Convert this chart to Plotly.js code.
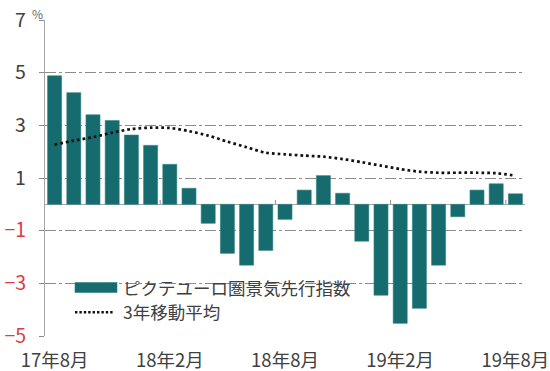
<!DOCTYPE html>
<html>
<head>
<meta charset="utf-8">
<script src="https://cdn.plot.ly/plotly-3.0.1.min.js"></script>
<style>
  html, body { margin: 0; padding: 0; background: #ffffff; }
  #chart { width: 550px; height: 371px; }
</style>
</head>
<body>
<div id="chart"></div>
<script>
// ---- data ----
const months = [
  "17年8月", "17年9月", "17年10月", "17年11月", "17年12月",
  "18年1月", "18年2月", "18年3月", "18年4月", "18年5月", "18年6月",
  "18年7月", "18年8月", "18年9月", "18年10月", "18年11月", "18年12月",
  "19年1月", "19年2月", "19年3月", "19年4月", "19年5月", "19年6月",
  "19年7月", "19年8月"
];
const indexValues = [
  4.88, 4.24, 3.40, 3.18, 2.63, 2.24, 1.52, 0.61, -0.72, -1.86, -2.31, -1.75,
  -0.57, 0.54, 1.09, 0.42, -1.40, -3.45, -4.52, -3.95, -2.31, -0.47, 0.54, 0.78, 0.40
];
const movingAvg = [
  2.27, 2.42, 2.55, 2.72, 2.86, 2.91, 2.90, 2.78, 2.61, 2.38, 2.17, 1.96,
  1.90, 1.85, 1.81, 1.72, 1.60, 1.47, 1.34, 1.24, 1.20, 1.20, 1.20, 1.18, 1.09
];
const xTickLabels = ["17年8月", "18年2月", "18年8月", "19年2月", "19年8月"];
const yTickVals = [7, 5, 3, 1, -1, -3, -5];
const seriesNames = ["ピクテユーロ圏景気先行指数", "3年移動平均"];

// ---- style ----
const W = 550, H = 371;
const M = { l: 45, r: 25, t: 20, b: 35 };
const teal = "#166b6e";
const gray = "#8c8c8c";
const textGray = "#404040";
const red = "#dc3c46";
const font = "'Noto Sans CJK JP', 'Noto Sans', sans-serif";

const pw = W - M.l - M.r, ph = H - M.t - M.b;
const px = v => (v - M.l) / pw;
const py = v => (H - M.b - v) / ph;

const posTickText = yTickVals.map(v => v >= 0 ? String(v) : "");
const negTickVals = yTickVals.filter(v => v < 0);
const negTickText = negTickVals.map(v => "−" + Math.abs(v));
const yRange = [-5, 7];

const traces = [
  {
    type: "bar",
    x: months,
    y: indexValues,
    name: seriesNames[0],
    marker: { color: teal, line: { color: "#2f7f82", width: 0.6 } },
    showlegend: false
  },
  {
    type: "scatter",
    mode: "lines",
    x: months,
    y: movingAvg,
    yaxis: "y2",
    name: seriesNames[1],
    line: { color: "#111111", width: 2.7, dash: "2.7px,3px", shape: "spline", smoothing: 0.8 },
    showlegend: false
  }
];

// boundary ticks on zero line every 6 months
const shapes = [];
for (let i = 5.5; i < months.length - 1; i += 6) {
  shapes.push({ type: "line", xref: "x", yref: "y", x0: i, x1: i, y0: 0, y1: 0.17,
    line: { color: gray, width: 1 }, layer: "above" });
}
// custom legend
shapes.push({ type: "rect", xref: "paper", yref: "paper",
  x0: px(73), x1: px(356), y0: py(322), y1: py(277),
  fillcolor: "#ffffff", line: { width: 0 }, layer: "below" });
shapes.push({ type: "rect", xref: "paper", yref: "paper",
  x0: px(75), x1: px(117), y0: py(292.5), y1: py(282.5),
  fillcolor: teal, line: { color: "#2f7f82", width: 0.6 }, layer: "above" });
shapes.push({ type: "line", xref: "paper", yref: "paper",
  x0: px(75), x1: px(114), y0: py(312.3), y1: py(312.3),
  line: { color: "#111111", width: 2.4, dash: "2.4px,2px" }, layer: "above" });

const annotations = [
  { xref: "paper", yref: "paper", x: px(121), y: py(287.5), xanchor: "left", yanchor: "middle",
    text: seriesNames[0], showarrow: false, font: { family: font, size: 17.5, color: textGray } },
  { xref: "paper", yref: "paper", x: px(121), y: py(311.5), xanchor: "left", yanchor: "middle",
    text: seriesNames[1], showarrow: false, font: { family: font, size: 17.5, color: textGray } },
  { xref: "paper", yref: "paper", x: px(30), y: py(13), xanchor: "left", yanchor: "middle",
    text: "%", showarrow: false, font: { family: font, size: 12, color: "#666666" } }
];

const layout = {
  width: W, height: H,
  margin: M,
  paper_bgcolor: "#ffffff",
  plot_bgcolor: "#ffffff",
  font: { family: font, color: textGray },
  showlegend: false,
  bargap: 0.27,
  xaxis: {
    type: "category",
    range: [-0.5, months.length - 0.5],
    tickmode: "array",
    tickvals: xTickLabels,
    ticktext: xTickLabels,
    ticks: "",
    showgrid: false,
    showline: false,
    zeroline: false,
    tickfont: { family: font, size: 18.5, color: textGray },
    ticklabelstandoff: 11,
    fixedrange: true
  },
  yaxis: {
    range: yRange,
    tickmode: "array",
    tickvals: yTickVals,
    ticktext: posTickText,
    ticks: "outside",
    ticklen: 5,
    tickcolor: gray,
    showline: true,
    linecolor: "#a6a6a6",
    linewidth: 1.3,
    showgrid: true,
    gridcolor: gray,
    gridwidth: 1,
    griddash: "11px,3px,3px,3px",
    zeroline: true,
    zerolinecolor: "#a6a6a6",
    zerolinewidth: 1.6,
    tickfont: { family: font, size: 19.5, color: textGray },
    ticklabelstandoff: 9,
    fixedrange: true
  },
  yaxis2: {
    overlaying: "y",
    side: "left",
    range: yRange,
    tickmode: "array",
    tickvals: negTickVals,
    ticktext: negTickText,
    ticks: "outside",
    ticklen: 5,
    tickcolor: "rgba(0,0,0,0)",
    showline: false,
    showgrid: false,
    zeroline: false,
    tickfont: { family: font, size: 19.5, color: red },
    ticklabelstandoff: 9,
    fixedrange: true
  },
  shapes: shapes,
  annotations: annotations
};

Plotly.newPlot("chart", traces, layout, { staticPlot: true, displayModeBar: false });
</script>
</body>
</html>
